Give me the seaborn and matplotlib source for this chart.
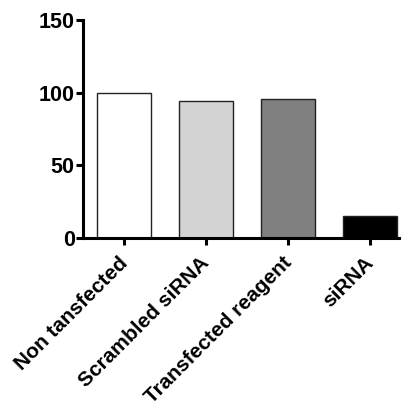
import numpy as np
import pandas as pd
import matplotlib
matplotlib.use('Agg')
import matplotlib.pyplot as plt
import matplotlib.transforms as mtrans
import seaborn as sns

# data
groups = ['Non tansfected', 'Scrambled siRNA', 'Transfected reagent', 'siRNA']
values = [100, 94, 96, 15]
fills = ['#ffffff', '#d3d3d3', '#808080', '#000000']

sns.set_theme(style='ticks')
plt.rcParams['font.family'] = ['Liberation Sans', 'DejaVu Sans']
plt.rcParams['font.weight'] = 'bold'

df = pd.DataFrame({'group': groups, 'value': values})

fig = plt.figure(figsize=(4.06, 4.01), dpi=100)
ax = fig.add_axes([0.2044, 0.4065, 0.7786, 0.5435])

sns.barplot(data=df, x='group', y='value', hue='group', palette=fills,
            width=0.66, edgecolor='#222222', linewidth=1.0, legend=False,
            saturation=1, ax=ax)

ax.set_ylim(0, 150)
ax.set_yticks([0, 50, 100, 150])
ax.set_xlim(-0.5, 3.36)
ax.set_xlabel('')
ax.set_ylabel('')

for side in ['top', 'right']:
    ax.spines[side].set_visible(False)
for side in ['left', 'bottom']:
    ax.spines[side].set_linewidth(2.2)
    ax.spines[side].set_color('black')

ax.tick_params(axis='both', width=2.2, length=5, color='black',
               labelcolor='black')
ax.tick_params(axis='y', pad=1, labelsize=15.5)
ax.tick_params(axis='x', pad=6, labelsize=15)
shift = mtrans.ScaledTranslation(-6 / 100, 0, fig.dpi_scale_trans)
for lab in ax.get_xticklabels():
    lab.set_rotation(45)
    lab.set_ha('right')
    lab.set_rotation_mode('anchor')
    lab.set_fontweight('bold')
    lab.set_transform(lab.get_transform() + shift)
plt.setp(ax.get_yticklabels(), fontweight='bold')

fig.savefig('out.png', dpi=100)
plt.close(fig)
